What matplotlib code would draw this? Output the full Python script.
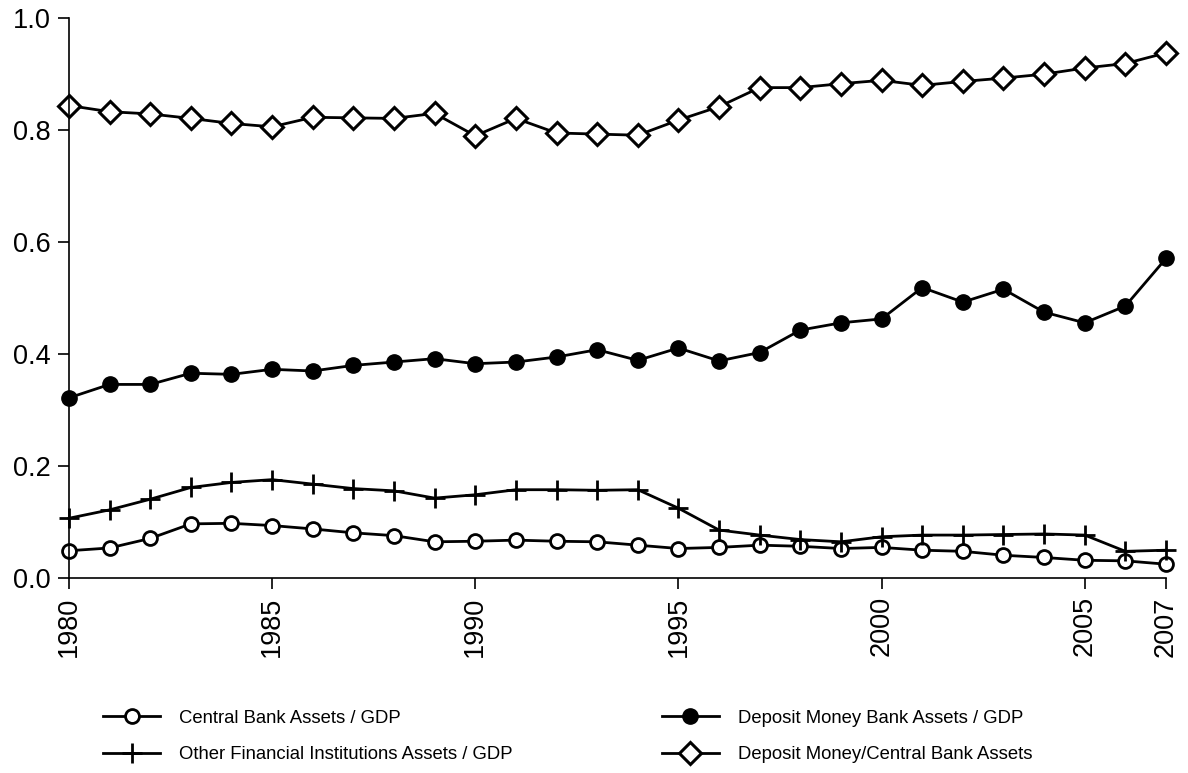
import matplotlib.pyplot as plt
import numpy as np

plt.rcParams['font.family'] = ['Liberation Sans', 'DejaVu Sans']

years = list(range(1980, 2008))

# central bank assets / GDP
central = [0.049, 0.054, 0.071, 0.097, 0.098, 0.094, 0.088, 0.081, 0.076, 0.065,
           0.066, 0.068, 0.066, 0.065, 0.059, 0.053, 0.055, 0.059, 0.057, 0.053,
           0.055, 0.050, 0.048, 0.041, 0.037, 0.032, 0.031, 0.025]
# deposit money bank assets / GDP
deposit = [0.322, 0.346, 0.346, 0.366, 0.364, 0.373, 0.370, 0.380, 0.386, 0.392,
           0.383, 0.386, 0.395, 0.408, 0.389, 0.411, 0.388, 0.403, 0.443, 0.456,
           0.463, 0.519, 0.493, 0.516, 0.475, 0.456, 0.486, 0.571]
# other financial institutions assets / GDP
other = [0.107, 0.122, 0.141, 0.162, 0.171, 0.176, 0.168, 0.160, 0.156, 0.143,
         0.149, 0.158, 0.158, 0.157, 0.158, 0.125, 0.086, 0.077, 0.069, 0.065,
         0.074, 0.077, 0.077, 0.078, 0.079, 0.077, 0.048, 0.050]
# deposit money / central bank assets
ratio = [0.844, 0.833, 0.829, 0.821, 0.812, 0.806, 0.823, 0.822, 0.821, 0.830,
         0.790, 0.821, 0.795, 0.793, 0.791, 0.818, 0.842, 0.876, 0.876, 0.883,
         0.889, 0.880, 0.887, 0.893, 0.900, 0.911, 0.919, 0.938]

xticks = [1980, 1985, 1990, 1995, 2000, 2005, 2007]
yticks = [0.0, 0.2, 0.4, 0.6, 0.8, 1.0]

fig = plt.figure(figsize=(11.88, 7.73), dpi=100)
ax = fig.add_axes([0.058, 0.252, 0.9235, 0.7245])

lw = 2.0
ax.plot(years, central, color='black', lw=lw, marker='o', ms=10, mfc='white',
        mec='black', mew=2, clip_on=False, label='Central Bank Assets / GDP')
ax.plot(years, other, color='black', lw=lw, marker='+', ms=14, mew=2,
        clip_on=False, label='Other Financial Institutions Assets / GDP')
ax.plot(years, deposit, color='black', lw=lw, marker='o', ms=11, mfc='black',
        mec='black', clip_on=False, label='Deposit Money Bank Assets / GDP')
ax.plot(years, ratio, color='black', lw=lw, marker='D', ms=11.5, mfc='white',
        mec='black', mew=2.2, clip_on=False, label='Deposit Money/Central Bank Assets')

ax.set_xlim(1980, 2007)
ax.set_ylim(0, 1.0)
ax.set_xticks(xticks)
ax.set_xticklabels([str(t) for t in xticks], rotation=90)
ax.set_yticks(yticks)
ax.set_yticklabels(['%.1f' % t for t in yticks])
ax.tick_params(labelsize=19.5, length=8, width=1.2, direction='out', pad=5)
ax.spines['top'].set_visible(False)
ax.spines['right'].set_visible(False)
ax.spines['left'].set_linewidth(1.2)
ax.spines['bottom'].set_linewidth(1.2)

h, l = ax.get_legend_handles_labels()
fig.legend(h, l, loc='upper left', bbox_to_anchor=(0.0867, 0.082), ncol=2,
           frameon=False, fontsize=13.3, handlelength=3.1, handletextpad=1.0,
           columnspacing=8.1, labelspacing=1.05, borderaxespad=0,
           borderpad=0)

fig.savefig('out.png', dpi=100)
